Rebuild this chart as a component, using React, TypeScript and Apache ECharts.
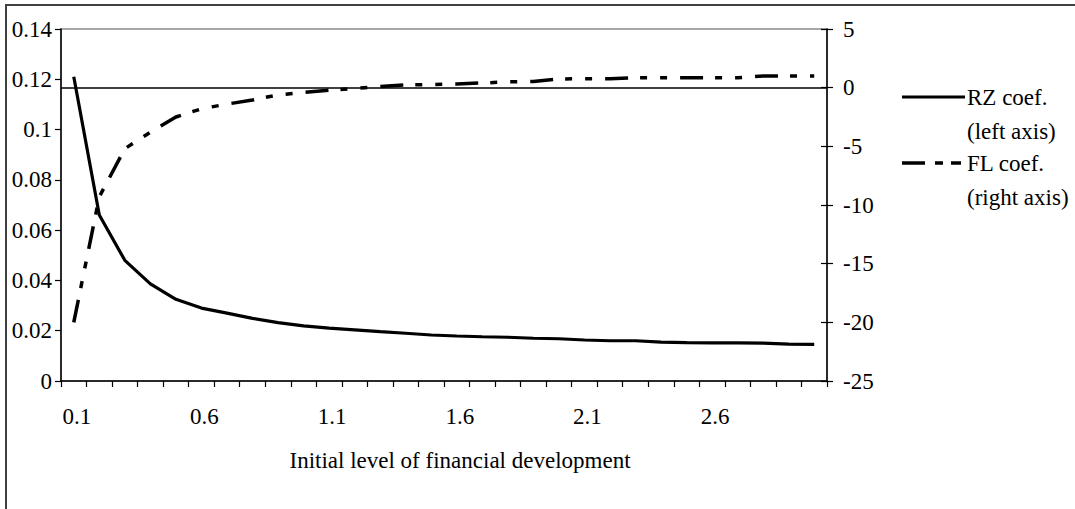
import React, { useEffect, useRef } from "react";
import * as echarts from "echarts";

const categories = [
  "0.1", "0.2", "0.3", "0.4", "0.5", "0.6", "0.7", "0.8", "0.9", "1.0",
  "1.1", "1.2", "1.3", "1.4", "1.5", "1.6", "1.7", "1.8", "1.9", "2.0",
  "2.1", "2.2", "2.3", "2.4", "2.5", "2.6", "2.7", "2.8", "2.9", "3.0",
];

const rzCoef = [
  0.121, 0.066, 0.048, 0.0386, 0.0325, 0.029, 0.027, 0.0249, 0.0232, 0.0219,
  0.021, 0.0203, 0.0196, 0.019, 0.0183, 0.0179, 0.0176, 0.0174, 0.017, 0.0168,
  0.0163, 0.016, 0.016, 0.0155, 0.0153, 0.0152, 0.0152, 0.0151, 0.0147, 0.0146,
];

const flCoef = [
  -20, -9.3, -5.2, -3.8, -2.5, -1.8, -1.4, -1.05, -0.62, -0.4,
  -0.22, -0.07, 0.1, 0.23, 0.27, 0.32, 0.4, 0.49, 0.53, 0.74,
  0.77, 0.77, 0.85, 0.85, 0.85, 0.85, 0.85, 1.0, 1.0, 1.0,
];

const leftTicks = { min: 0, max: 0.14, interval: 0.02 };
const rightTicks = { min: -25, max: 5, interval: 5 };

const xTitle = "Initial level of financial development";
const rzName = ["RZ coef.", "(left axis)"];
const flName = ["FL coef.", "(right axis)"];

const FONT = "Liberation Serif, Times New Roman, serif";
const FS = 23;

export default function App() {
  const ref = useRef<HTMLDivElement>(null);
  useEffect(() => {
    if (!ref.current) return;
    const chart = echarts.init(ref.current, null, { renderer: "svg" });
    const textStyle = { fontFamily: FONT, fontSize: FS, color: "#000" };
    const gText = (text: string, x: number, y: number, align = "left") => ({
      type: "text",
      x,
      y,
      style: {
        text,
        fontFamily: FONT,
        fontSize: FS,
        fill: "#000",
        align,
        verticalAlign: "middle",
      },
    });
    chart.setOption({
      animation: false,
      backgroundColor: "#fff",
      textStyle: { fontFamily: FONT },
      grid: {
        left: 61,
        top: 29,
        right: 1075 - 827,
        bottom: 509 - 381,
        show: true,
        borderColor: "#8a8a8a",
        borderWidth: 1.5,
        backgroundColor: "transparent",
      },
      xAxis: {
        type: "category",
        data: categories,
        boundaryGap: true,
        axisLine: { lineStyle: { color: "#000", width: 1.5 } },
        axisTick: { show: true, interval: 0, length: 6, lineStyle: { color: "#000", width: 1.2 } },
        axisLabel: { ...textStyle, interval: 4, margin: 24, padding: [0, 0, 0, 6] },
        splitLine: { show: false },
      },
      yAxis: [
        {
          type: "value",
          position: "left",
          ...leftTicks,
          axisLine: { show: true, lineStyle: { color: "#000", width: 1.5 } },
          axisTick: { show: true, length: 6, lineStyle: { color: "#000", width: 1.2 } },
          axisLabel: { ...textStyle, margin: 9 },
          splitLine: { show: false },
        },
        {
          type: "value",
          position: "right",
          ...rightTicks,
          axisLine: { show: true, lineStyle: { color: "#000", width: 1.5 } },
          axisTick: { show: true, length: 6, lineStyle: { color: "#000", width: 1.2 } },
          axisLabel: { ...textStyle, margin: 16 },
          splitLine: { show: false },
        },
        {
          type: "value",
          position: "right",
          ...rightTicks,
          axisLine: { show: false },
          axisTick: { show: true, inside: true, length: 6, lineStyle: { color: "#000", width: 1.2 } },
          axisLabel: { show: false },
          splitLine: { show: false },
        },
      ],
      series: [
        {
          name: rzName.join(" "),
          type: "line",
          yAxisIndex: 0,
          data: rzCoef,
          symbol: "none",
          smooth: false,
          lineStyle: { color: "#000", width: 3.2 },
          z: 3,
        },
        {
          name: flName.join(" "),
          type: "line",
          yAxisIndex: 1,
          data: flCoef,
          symbol: "none",
          smooth: false,
          lineStyle: { color: "#000", width: 3.5, type: [23, 12, 7, 13, 7, 13], cap: "butt" },
          markLine: {
            silent: true,
            symbol: "none",
            label: { show: false },
            lineStyle: { color: "#000", width: 1.5, type: "solid" },
            data: [{ yAxis: 0 }],
          },
          z: 3,
        },
      ],
      graphic: [
        {
          type: "rect",
          shape: { x: 6, y: 5, width: 1200, height: 700 },
          style: { fill: "none", stroke: "#404040", lineWidth: 2 },
          silent: true,
        },
        gText(xTitle, 460, 460, "center"),
        {
          type: "line",
          shape: { x1: 902, y1: 97, x2: 965, y2: 97 },
          style: { stroke: "#000", lineWidth: 3.2 },
        },
        gText(rzName[0], 967, 97),
        gText(rzName[1], 967, 131),
        {
          type: "line",
          shape: { x1: 902, y1: 163, x2: 962, y2: 163 },
          style: { stroke: "#000", lineWidth: 3.5, lineDash: [23, 10, 8, 8, 10, 100] },
        },
        gText(flName[0], 967, 163),
        gText(flName[1], 967, 197),
      ],
    });
    return () => chart.dispose();
  }, []);
  return (
    <div
      ref={ref}
      style={{ position: "fixed", left: 0, top: 0, width: 1075, height: 509, background: "#fff" }}
    />
  );
}
